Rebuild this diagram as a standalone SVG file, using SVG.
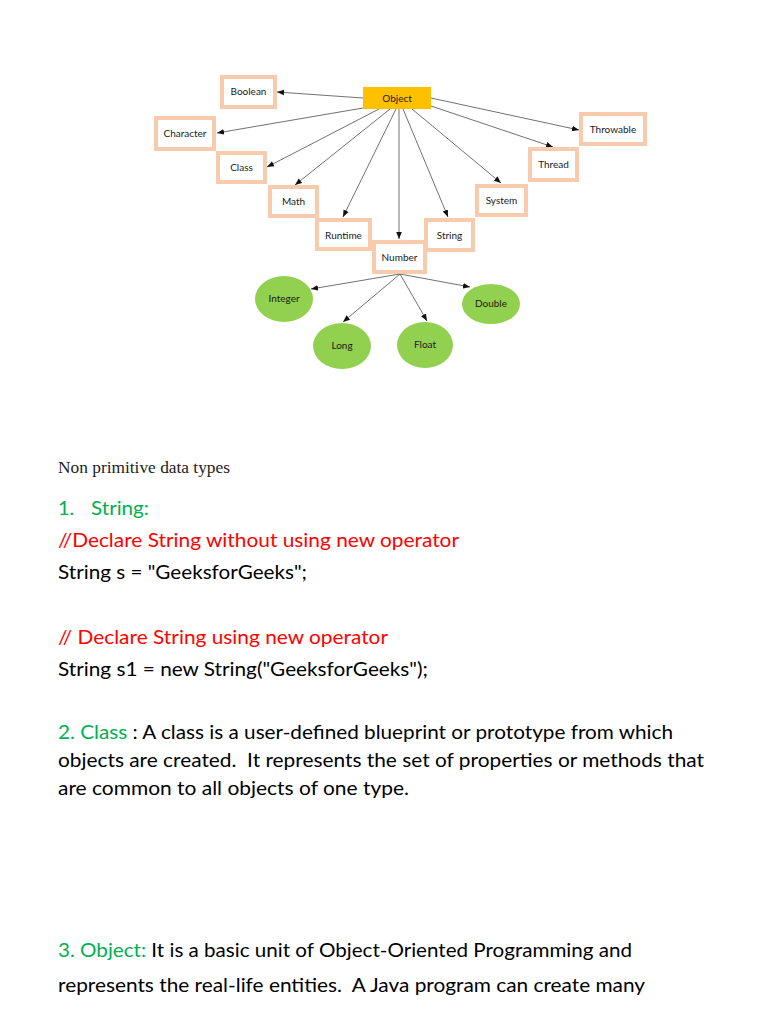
<svg xmlns="http://www.w3.org/2000/svg" width="768" height="1024" viewBox="0 0 768 1024">
<defs>
<marker id="ah" viewBox="0 0 10 10" refX="10" refY="5" markerWidth="7" markerHeight="7" markerUnits="userSpaceOnUse" orient="auto">
<path d="M0,1 L10,5 L0,9 Z" fill="#111"/>
</marker>
<style>
.box{fill:#fff;stroke:#F8CBAD;stroke-width:4}
.obj{fill:#FFC000}
.ell{fill:#92D050}
.nt{font-family:Lato,"Open Sans","Liberation Sans",sans-serif;font-size:10px;fill:#1a1a1a;text-anchor:middle}
.edge{stroke:#333;stroke-width:0.7;fill:none;marker-end:url(#ah)}
.body{font-family:Lato,"Open Sans","Liberation Sans",sans-serif;font-size:20px;fill:#000}
.g{fill:#00B050}
.r{fill:#FF0000}
.serif{font-family:"Liberation Serif","Times New Roman",serif;font-size:16px;fill:#222}
</style>
</defs>
<rect width="768" height="1024" fill="#fff"/>
<g id="connectors">
<line class="edge" x1="363" y1="98" x2="277" y2="92"/>
<line class="edge" x1="363" y1="108" x2="217" y2="133"/>
<line class="edge" x1="379" y1="109" x2="267" y2="167"/>
<line class="edge" x1="390" y1="109" x2="295" y2="185"/>
<line class="edge" x1="396" y1="109" x2="343" y2="217"/>
<line class="edge" x1="399" y1="109" x2="399" y2="239"/>
<line class="edge" x1="403" y1="109" x2="448" y2="217"/>
<line class="edge" x1="412" y1="109" x2="501" y2="183"/>
<line class="edge" x1="431" y1="106" x2="553" y2="147"/>
<line class="edge" x1="431" y1="98" x2="579" y2="130"/>
<line class="edge" x1="400" y1="274" x2="311" y2="289"/>
<line class="edge" x1="400" y1="274" x2="343" y2="322"/>
<line class="edge" x1="400" y1="274" x2="427" y2="321"/>
<line class="edge" x1="400" y1="274" x2="470" y2="287"/>
</g>
<g id="object"><rect class="obj" x="363" y="87" width="68" height="22"/><text class="nt" x="397" y="101.5">Object</text></g>
<g id="boolean"><rect class="box" x="222" y="77" width="53" height="30"/><text class="nt" x="248.5" y="95">Boolean</text></g>
<g id="character"><rect class="box" x="156" y="118" width="58" height="31"/><text class="nt" x="185" y="136.5">Character</text></g>
<g id="class"><rect class="box" x="218" y="153" width="47" height="29"/><text class="nt" x="241.5" y="170.5">Class</text></g>
<g id="math"><rect class="box" x="270" y="187" width="47" height="29"/><text class="nt" x="293.5" y="205">Math</text></g>
<g id="runtime"><rect class="box" x="317" y="220" width="53" height="29"/><text class="nt" x="343.5" y="238.5">Runtime</text></g>
<g id="number"><rect class="box" x="374" y="242" width="51" height="30"/><text class="nt" x="399.5" y="260.5">Number</text></g>
<g id="string"><rect class="box" x="426" y="220" width="47" height="30"/><text class="nt" x="449.5" y="238.5">String</text></g>
<g id="system"><rect class="box" x="477" y="186" width="49" height="29"/><text class="nt" x="501.5" y="203.5">System</text></g>
<g id="thread"><rect class="box" x="530" y="149" width="47" height="31"/><text class="nt" x="553.5" y="167.5">Thread</text></g>
<g id="throwable"><rect class="box" x="581" y="114" width="64" height="30"/><text class="nt" x="613" y="132.5">Throwable</text></g>
<g id="integer"><ellipse class="ell" cx="284" cy="299" rx="29" ry="23"/><text class="nt" x="284" y="302">Integer</text></g>
<g id="long"><ellipse class="ell" cx="342" cy="346" rx="29" ry="23"/><text class="nt" x="342" y="349">Long</text></g>
<g id="float"><ellipse class="ell" cx="425" cy="345" rx="28" ry="23"/><text class="nt" x="425" y="348">Float</text></g>
<g id="double"><ellipse class="ell" cx="491" cy="304" rx="29" ry="20"/><text class="nt" x="491" y="307">Double</text></g>

<text class="serif" x="58" y="473" textLength="172" lengthAdjust="spacingAndGlyphs">Non primitive data types</text>
<text class="body g" x="58" y="515">1.</text>
<text class="body g" x="91" y="515" textLength="58" lengthAdjust="spacingAndGlyphs">String:</text>
<text class="body r" x="58" y="547" textLength="401" lengthAdjust="spacingAndGlyphs">//Declare String without using new operator</text>
<text class="body" x="58" y="579" textLength="249" lengthAdjust="spacingAndGlyphs">String s = "GeeksforGeeks";</text>
<text class="body r" x="58" y="644" textLength="330" lengthAdjust="spacingAndGlyphs">// Declare String using new operator</text>
<text class="body" x="58" y="676" textLength="370" lengthAdjust="spacingAndGlyphs">String s1 = new String("GeeksforGeeks");</text>
<text class="body" x="58" y="739" textLength="615" lengthAdjust="spacingAndGlyphs"><tspan class="g">2. Class</tspan> : A class is a user-defined blueprint or prototype from which</text>
<text class="body" x="58" y="767" textLength="646" lengthAdjust="spacingAndGlyphs" xml:space="preserve">objects are created.  It represents the set of properties or methods that</text>
<text class="body" x="58" y="795" textLength="351" lengthAdjust="spacingAndGlyphs">are common to all objects of one type.</text>
<text class="body" x="58" y="957" textLength="574" lengthAdjust="spacingAndGlyphs"><tspan class="g">3. Object:</tspan> It is a basic unit of Object-Oriented Programming and</text>
<text class="body" x="58" y="992" textLength="587" lengthAdjust="spacingAndGlyphs" xml:space="preserve">represents the real-life entities.  A Java program can create many</text>
</svg>
